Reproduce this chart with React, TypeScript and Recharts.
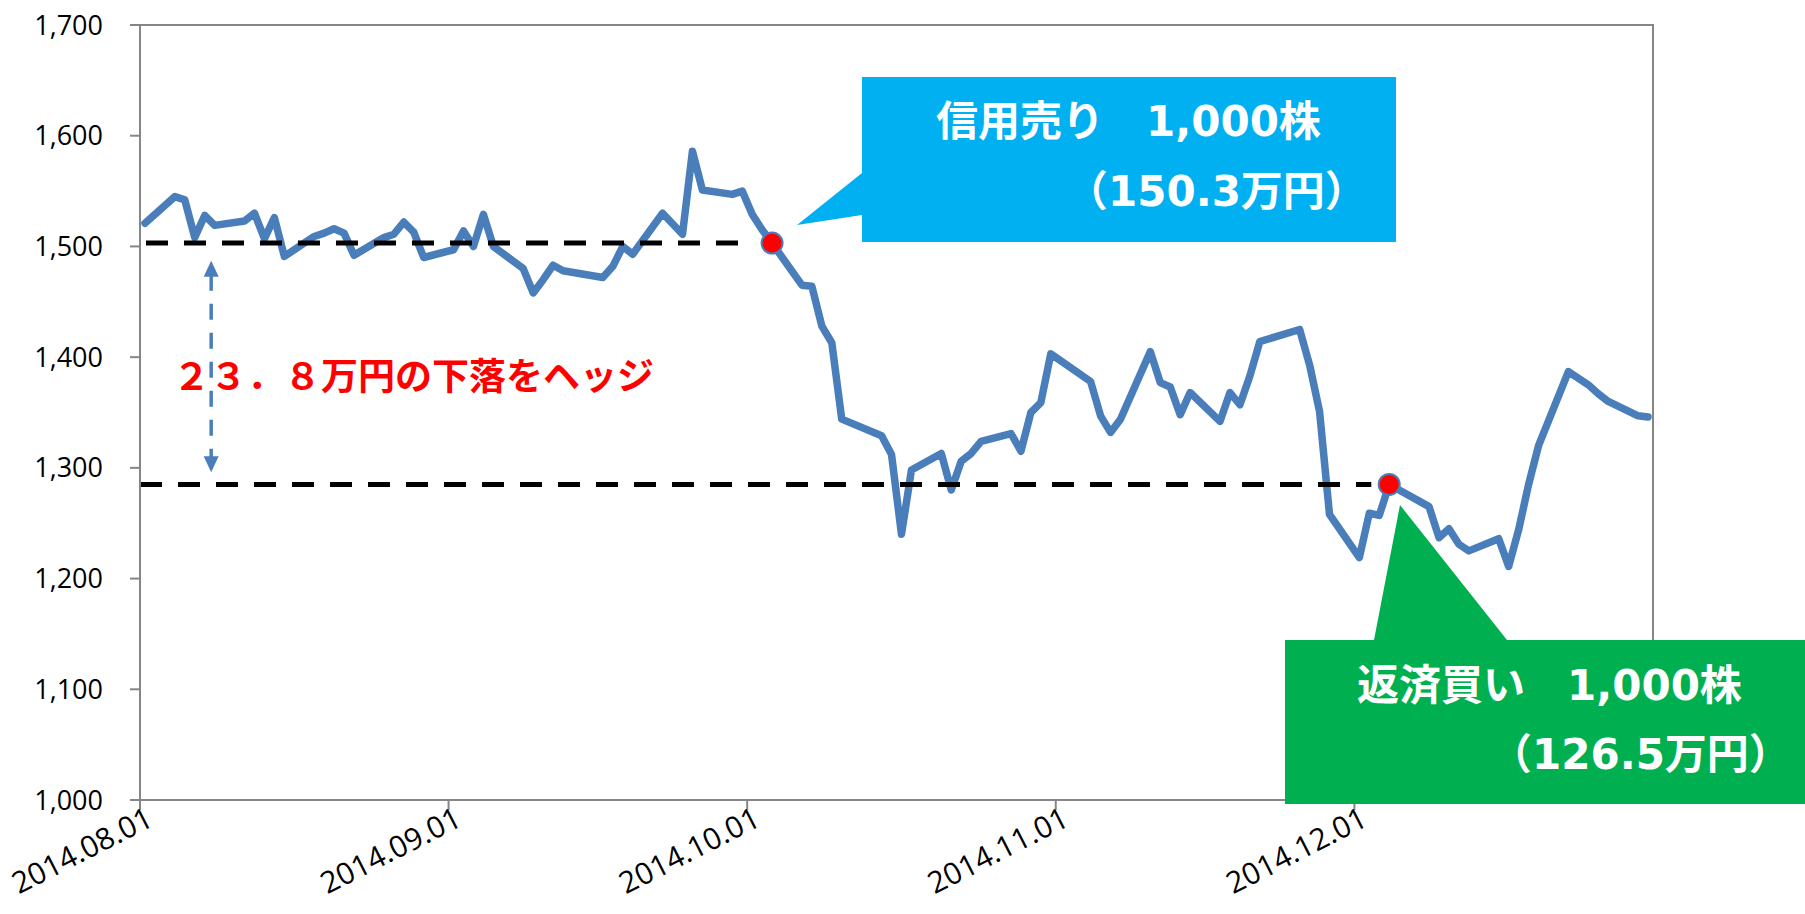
import React from 'react';
import { LineChart, Line, XAxis, YAxis, ReferenceLine, ReferenceArea } from 'recharts';

// Daily closes, one pair of arrays per month (trading days only)
const augDays = [1, 4, 5, 6, 7, 8, 11, 12, 13, 14, 15, 18, 19, 20, 21, 22, 25, 26, 27, 28, 29];
const augPrices = [1521, 1545, 1542, 1508, 1528, 1519, 1523, 1530, 1507, 1526, 1491, 1509, 1512, 1516, 1512, 1492, 1508, 1511, 1522, 1513, 1490];

const sepDays = [1, 2, 3, 4, 5, 8, 9, 10, 11, 12, 16, 17, 18, 19, 22, 24, 25, 26, 29, 30];
const sepPrices = [1497, 1514, 1500, 1529, 1500, 1480, 1458, 1470, 1483, 1478, 1472, 1482, 1500, 1493, 1530, 1511, 1586, 1551, 1547, 1550];

const octDays = [1, 2, 3, 6, 7, 8, 9, 10, 14, 15, 16, 17, 20, 21, 22, 23, 24, 27, 28, 29, 30, 31];
const octPrices = [1529, 1515, 1503, 1465, 1464, 1428, 1413, 1344, 1329, 1312, 1240, 1298, 1313, 1280, 1306, 1313, 1324, 1331, 1315, 1350, 1359, 1403];

const novDays = [4, 5, 6, 7, 10, 11, 12, 13, 14, 17, 18, 19, 20, 21, 25, 26, 27, 28];
const novPrices = [1378, 1347, 1332, 1344, 1405, 1377, 1373, 1348, 1368, 1342, 1368, 1357, 1383, 1414, 1425, 1393, 1351, 1258];

const decDays = [1, 2, 3, 4, 5, 8, 9, 10, 11, 12, 15, 16, 17, 18, 19, 22, 24, 25, 26, 29, 30];
const decPrices = [1219, 1259, 1257, 1285, 1280, 1265, 1237, 1245, 1231, 1225, 1236, 1211, 1244, 1285, 1320, 1387, 1375, 1367, 1360, 1347, 1346];

const tickDates = ['2014.08.01', '2014.09.01', '2014.10.01', '2014.11.01', '2014.12.01'];
const yTicks = [1000, 1100, 1200, 1300, 1400, 1500, 1600, 1700];

// trades: [month, day]
const sellDate = [10, 3];
const buyDate = [12, 4];
const sellLevel = 1503;
const buyLevel = 1285;

const START = Date.UTC(2014, 7, 1);
const dayIndex = (m: number, d: number) => (Date.UTC(2014, m - 1, d) - START) / 86400000;
const AXIS_END = dayIndex(12, 31);

const months = [
  { m: 8, days: augDays, prices: augPrices },
  { m: 9, days: sepDays, prices: sepPrices },
  { m: 10, days: octDays, prices: octPrices },
  { m: 11, days: novDays, prices: novPrices },
  { m: 12, days: decDays, prices: decPrices },
];

const data = months.flatMap(({ m, days, prices }) =>
  days.map((d, i) => ({
    t: dayIndex(m, d) + 0.5, // points sit mid-day (Excel date axis, between tick marks)
    price: prices[i],
    trade: (m === sellDate[0] && d === sellDate[1]) || (m === buyDate[0] && d === buyDate[1]),
  }))
);

const xTicks = tickDates.map((s) => {
  const [, mm, dd] = s.split('.').map(Number);
  return dayIndex(mm, dd);
});
const tickLabel = (v: number) => tickDates[xTicks.indexOf(v)] ?? '';

const AXIS = '#868686';
const SERIES = '#4A7EBB';
const LABEL_FONT = '"Open Sans", sans-serif';
const BOX_FONT = '"DejaVu Sans", "Noto Sans CJK JP", sans-serif';

const XTick = (props: any) => {
  const { x, y, payload } = props;
  const ax = x + 15;
  const ay = y + 13;
  return (
    <text
      x={ax}
      y={ay}
      transform={`rotate(-27, ${ax}, ${ay})`}
      textAnchor="end"
      fontFamily={LABEL_FONT}
      fontSize={30}
      fill="#000"
    >
      {tickLabel(payload.value)}
    </text>
  );
};

const renderDot = (props: any) => {
  const { cx, cy, payload, index } = props;
  if (!payload.trade) return <g key={`d-${index}`} />;
  return <circle key={`d-${index}`} cx={cx} cy={cy} r={10.5} fill="#FF0000" stroke={SERIES} strokeWidth={2} />;
};

// dashed double arrow between the two levels
const ArrowShape = (props: any) => {
  const { x1, y1, x2, y2 } = props;
  const top = Math.min(y1, y2);
  const bot = Math.max(y1, y2);
  const x = x1 ?? x2;
  return (
    <g>
      <line x1={x} y1={top + 14} x2={x} y2={bot - 14} stroke={SERIES} strokeWidth={3.5} strokeDasharray="16 13" />
      <polygon points={`${x},${top} ${x - 7.5},${top + 16} ${x + 7.5},${top + 16}`} fill={SERIES} />
      <polygon points={`${x},${bot} ${x - 7.5},${bot - 16} ${x + 7.5},${bot - 16}`} fill={SERIES} />
    </g>
  );
};

export default function App() {
  return (
    <div style={{ position: 'absolute', left: 0, top: 0, width: 1805, height: 914, background: '#fff' }}>
      <LineChart width={1805} height={914} data={data} margin={{ top: 25, right: 152, bottom: 0, left: 0 }}>
        <ReferenceArea x1={0} x2={AXIS_END} y1={1000} y2={1700} fill="none" stroke={AXIS} strokeWidth={2} />
        <XAxis
          dataKey="t"
          type="number"
          domain={[0, AXIS_END]}
          ticks={xTicks}
          interval={0}
          height={114}
          stroke={AXIS}
          strokeWidth={2}
          tickSize={10}
          tick={<XTick />}
          allowDataOverflow
        />
        <YAxis
          domain={[1000, 1700]}
          ticks={yTicks}
          width={140}
          stroke={AXIS}
          strokeWidth={2}
          tickSize={10}
          tickMargin={27}
          tickFormatter={(v: number) => v.toLocaleString('en-US')}
          tick={{ fill: '#000', fontSize: 27, fontFamily: LABEL_FONT }}
        />
        <Line
          type="linear"
          dataKey="price"
          stroke={SERIES}
          strokeWidth={7.5}
          strokeLinejoin="round"
          strokeLinecap="round"
          dot={renderDot}
          activeDot={false}
          isAnimationActive={false}
        />
        <ReferenceLine
          segment={[{ x: 0.6, y: sellLevel }, { x: 60.6, y: sellLevel }]}
          stroke="#000"
          strokeWidth={5}
          strokeDasharray="22 16"
        />
        <ReferenceLine
          segment={[{ x: 0, y: buyLevel }, { x: 123.7, y: buyLevel }]}
          stroke="#000"
          strokeWidth={5}
          strokeDasharray="22 16"
        />
        <ReferenceLine
          segment={[{ x: 7.15, y: 1487 }, { x: 7.15, y: 1296 }]}
          shape={<ArrowShape />}
        />
      </LineChart>

      <svg width={1805} height={914} style={{ position: 'absolute', left: 0, top: 0, pointerEvents: 'none' }}>
        <path d="M862,77 H1396 V242 H862 V215 L797,225 L862,173 Z" fill="#00B0F0" />
        <text fontFamily={BOX_FONT} fontWeight="bold" fontSize={42} fill="#fff">
          <tspan x={936} y={136}>信用売り　1,000株</tspan>
          <tspan x={1066} y={206}>（150.3万円）</tspan>
        </text>

        <path d="M1285,640 H1374 L1400,505 L1507,640 H1805 V804 H1285 Z" fill="#00B050" />
        <text fontFamily={BOX_FONT} fontWeight="bold" fontSize={42} fill="#fff">
          <tspan x={1357} y={700}>返済買い　1,000株</tspan>
          <tspan x={1490} y={769}>（126.5万円）</tspan>
        </text>

        <text x={173} y={390} fontFamily='"Noto Sans CJK JP", sans-serif' fontWeight="bold" fontSize={37} fill="#FF0000">
          ２３．８万円の下落をヘッジ
        </text>
      </svg>
    </div>
  );
}
